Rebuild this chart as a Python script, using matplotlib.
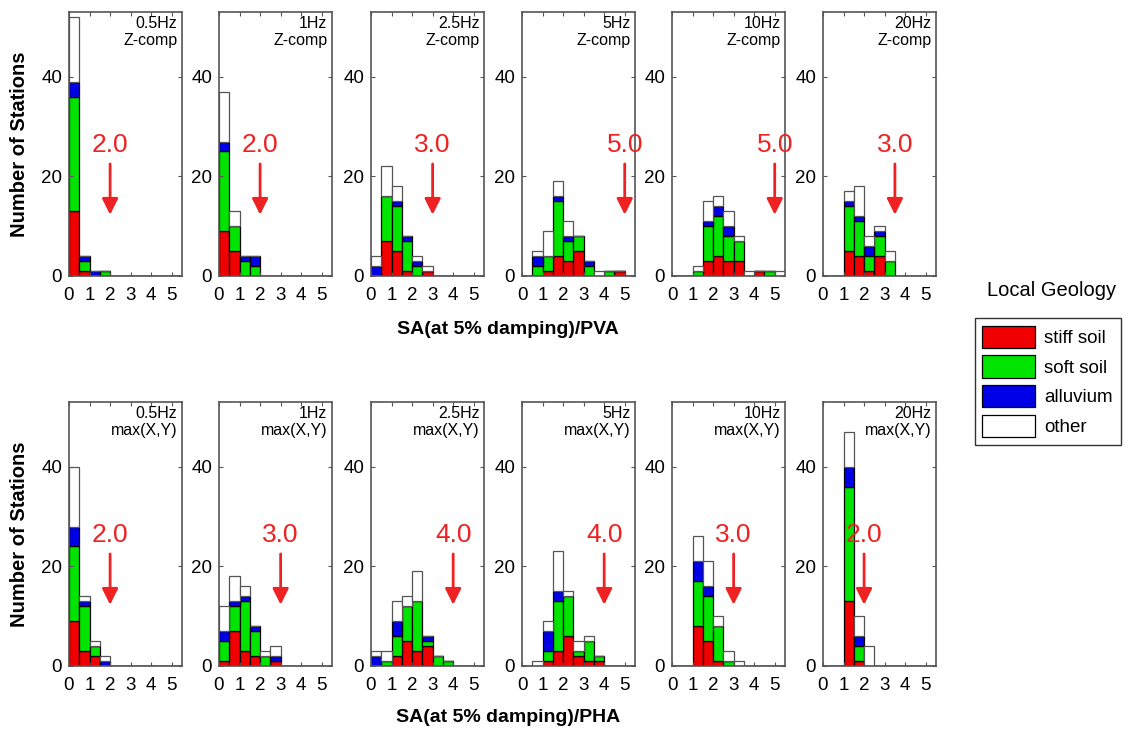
import matplotlib
matplotlib.use("Agg")
import matplotlib.pyplot as plt
from matplotlib.patches import Patch
import numpy as np

plt.rcParams['font.family'] = ['Liberation Sans', 'DejaVu Sans']

# histogram bins of width 0.5 from 0 to 5.5
bin_left = np.arange(0, 5.5, 0.5)

freqs = ['0.5Hz', '1Hz', '2.5Hz', '5Hz', '10Hz', '20Hz']

# top row: Z-comp, SA/PVA
top_stiff = [[13, 1], [9, 5], [0, 7, 5, 1, 0, 1], [0, 0, 1, 4, 3, 5, 0, 0, 0, 1],
             [0, 0, 0, 3, 4, 3, 3, 0, 1, 0, 0], [0, 0, 5, 4, 1, 4, 0]]
top_soft = [[23, 2, 0, 1], [16, 5, 3, 2], [0, 9, 9, 6, 2, 0], [0, 2, 3, 11, 4, 3, 2, 0, 1, 0],
            [0, 0, 1, 7, 8, 5, 4, 0, 0, 1, 0], [0, 0, 9, 7, 3, 4, 3]]
top_alluvium = [[3, 1, 1, 0], [2, 0, 1, 2], [2, 0, 1, 1, 1, 0], [0, 2, 0, 1, 1, 0, 1],
                [0, 0, 0, 1, 2, 2, 0], [0, 0, 1, 1, 2, 1, 0]]
top_other = [[13, 0], [10, 3], [2, 6, 3, 0, 1, 1], [0, 1, 5, 3, 3, 0, 0, 1],
             [0, 0, 1, 4, 2, 3, 1, 1, 0, 0, 1], [0, 0, 2, 6, 2, 1, 2]]
top_arrow_labels = ['2.0', '2.0', '3.0', '5.0', '5.0', '3.0']
top_arrow_x = [2.0, 2.0, 3.0, 5.0, 5.0, 3.5]

# bottom row: max(X,Y), SA/PHA
bot_stiff = [[9, 3, 2, 0], [1, 7, 3, 2, 0, 1], [0, 0, 2, 5, 3, 4, 0, 0], [0, 0, 1, 3, 6, 2, 1, 1],
             [0, 0, 8, 5, 1, 0, 0], [0, 0, 13, 1, 0]]
bot_soft = [[15, 9, 2, 0], [4, 5, 10, 5, 2, 0], [0, 1, 4, 7, 10, 1, 2, 1], [0, 0, 2, 10, 8, 1, 4, 1],
            [0, 0, 9, 9, 7, 1, 0], [0, 0, 23, 3, 0]]
bot_alluvium = [[4, 1, 0, 1], [2, 1, 1, 1, 0, 1], [2, 0, 3, 0, 0, 1, 0, 0], [0, 0, 4, 2, 0, 0, 0, 0],
                [0, 0, 4, 2, 0, 0, 0], [0, 0, 4, 2, 0]]
bot_other = [[12, 1, 1, 1], [5, 5, 2, 0, 1, 2], [1, 2, 4, 2, 6, 0, 0, 0], [0, 1, 2, 8, 1, 2, 1, 0],
             [0, 0, 5, 5, 2, 2, 1], [0, 0, 7, 4, 4]]
bot_arrow_labels = ['2.0', '3.0', '4.0', '4.0', '3.0', '2.0']
bot_arrow_x = [2.0, 3.0, 4.0, 4.0, 3.0, 2.0]

geology = ['stiff soil', 'soft soil', 'alluvium', 'other']
colors = ['#f00000', '#00e400', '#0000e6', 'white']


def pad(vals):
    out = np.zeros(len(bin_left))
    out[:len(vals)] = vals
    return out


W, H = 1131, 738
fig = plt.figure(figsize=(W / 100, H / 100), dpi=100)

lefts = [69, 219, 371, 522, 672, 823]
rows = [
    (12, 276, top_stiff, top_soft, top_alluvium, top_other, top_arrow_labels, top_arrow_x, 'Z-comp'),
    (402, 666, bot_stiff, bot_soft, bot_alluvium, bot_other, bot_arrow_labels, bot_arrow_x, 'max(X,Y)'),
]

for y0, y1, stiff, soft, alluv, other, alabels, ax_x, comp in rows:
    for i, left in enumerate(lefts):
        ax = fig.add_axes([left / W, 1 - y1 / H, 113 / W, (y1 - y0) / H])
        bottom = np.zeros(len(bin_left))
        for vals, c in zip([stiff[i], soft[i], alluv[i], other[i]], colors):
            v = pad(vals)
            ec = '#555555' if c == 'white' else 'black'
            ax.bar(bin_left, v, width=0.5, bottom=bottom, align='edge',
                   color=c, edgecolor=ec, linewidth=0.9)
            bottom = bottom + v
        ax.set_xlim(0, 5.5)
        ax.set_ylim(0, 53)
        ax.set_xticks(range(6))
        ax.set_yticks([0, 20, 40])
        ax.tick_params(direction='in', top=True, right=True, labelsize=13.5,
                       length=3, color='#555555', pad=5)
        ax.tick_params(axis='x', pad=8)
        for s in ax.spines.values():
            s.set_color('#555555')
            s.set_linewidth(1.2)
        ax.text(0.96, 0.985, freqs[i] + '\n' + comp, transform=ax.transAxes,
                ha='right', va='top', fontsize=11.5, linespacing=1.15)
        ax.text(ax_x[i], 26.3, alabels[i], ha='center', va='center',
                fontsize=19, color='#ee2222')
        ax.annotate('', xy=(ax_x[i], 12.3), xytext=(ax_x[i], 22.5),
                    arrowprops=dict(arrowstyle='-|>', color='#ee2222', lw=2,
                                    mutation_scale=24, shrinkA=0, shrinkB=0))

for yc in [144, 534]:
    fig.text(20 / W, 1 - yc / H, 'Number of Stations', rotation=90, ha='center',
             va='center', fontsize=14.5, fontweight='bold')
fig.text(508 / W, 1 - 330 / H, 'SA(at 5% damping)/PVA', ha='center', va='center',
         fontsize=14, fontweight='bold')
fig.text(508 / W, 1 - 717 / H, 'SA(at 5% damping)/PHA', ha='center', va='center',
         fontsize=14, fontweight='bold')

fig.text(1052 / W, 1 - 291 / H, 'Local Geology', ha='center', va='center', fontsize=14.5)
handles = [Patch(facecolor=c, edgecolor='black', linewidth=0.9) for c in colors]
leg = fig.legend(handles, geology, loc='upper left', bbox_to_anchor=(975 / W, 1 - 318 / H),
                 fontsize=13.5, frameon=True, fancybox=False, handlelength=2.8,
                 handleheight=1.45, borderpad=0.4, labelspacing=0.4, handletextpad=0.5,
                 borderaxespad=0)
leg.get_frame().set_edgecolor('black')
leg.get_frame().set_linewidth(1.0)

fig.savefig('out.png', dpi=100)
